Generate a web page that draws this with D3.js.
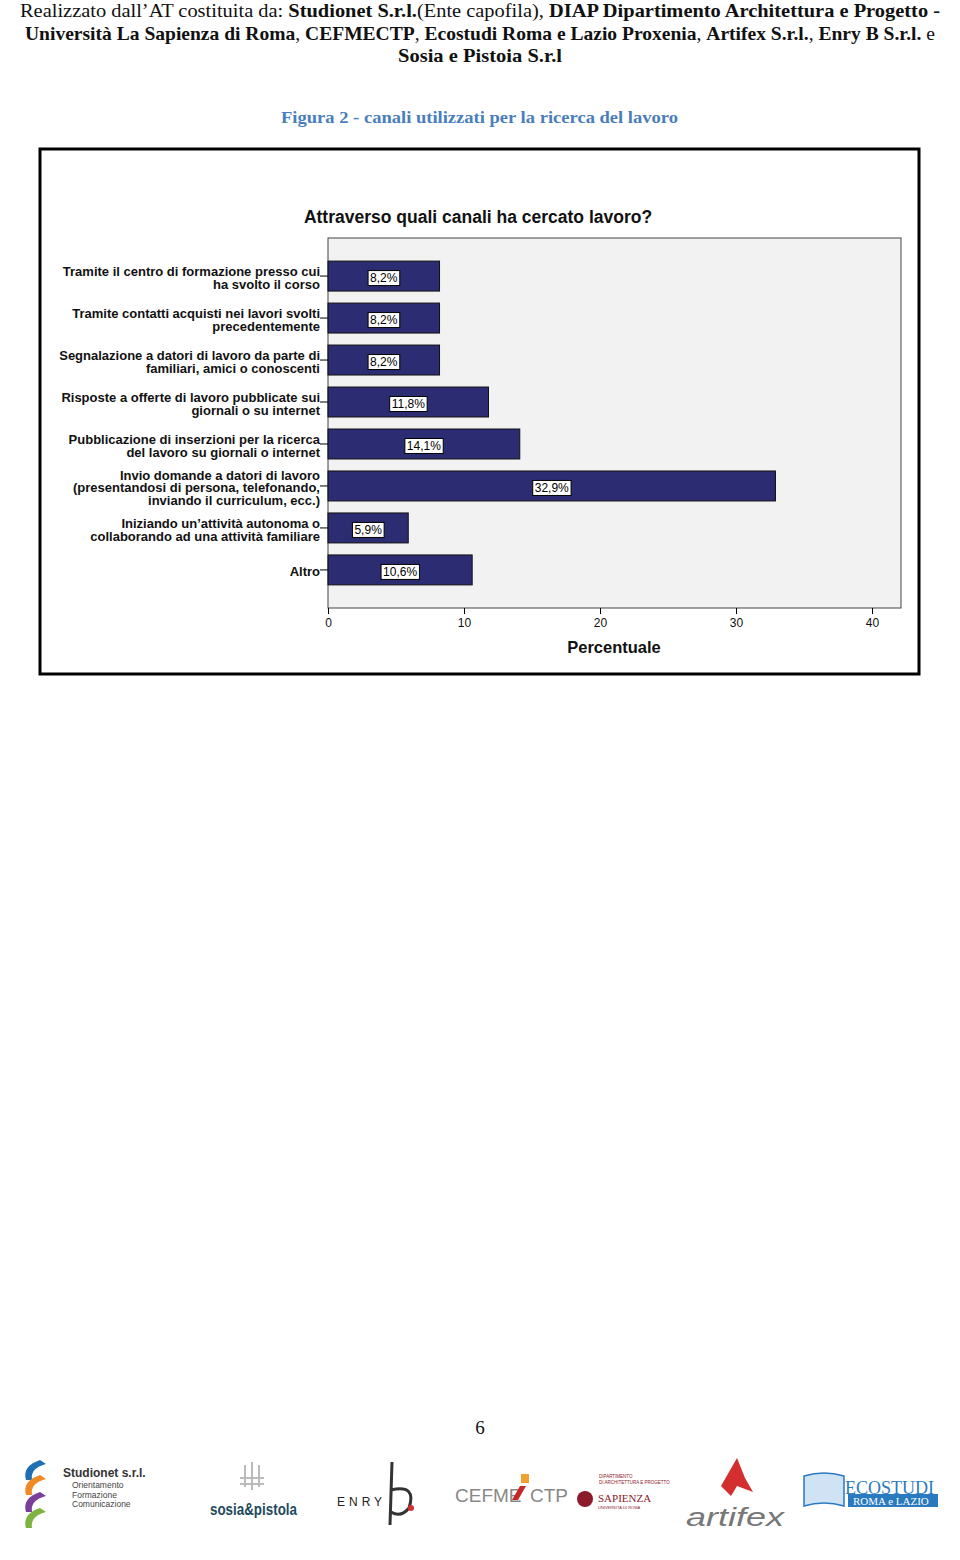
<!DOCTYPE html>
<html>
<head>
<meta charset="utf-8">
<script src="https://cdn.jsdelivr.net/npm/d3@7"></script>
<style>
  body { margin: 0; background: #fff; }
  svg { display: block; }
</style>
</head>
<body>
<div id="page"></div>
<script>
// Chart data
const categories = [
  ["Tramite il centro di formazione presso cui", "ha svolto il corso "],
  ["Tramite contatti acquisti nei lavori svolti", "precedentemente "],
  ["Segnalazione a datori di lavoro da parte di", "familiari, amici o conoscenti"],
  ["Risposte a offerte di lavoro pubblicate sui", "giornali o su internet"],
  ["Pubblicazione di inserzioni per la ricerca", "del lavoro su giornali o internet"],
  ["Invio domande a datori di lavoro", "(presentandosi di persona, telefonando,", "inviando il curriculum, ecc.)"],
  ["Iniziando un\u2019attività autonoma o", "collaborando ad una attività familiare"],
  ["Altro"]
];
const values = [8.2, 8.2, 8.2, 11.8, 14.1, 32.9, 5.9, 10.6];
const valueLabels = ["8,2%", "8,2%", "8,2%", "11,8%", "14,1%", "32,9%", "5,9%", "10,6%"];
const xTicks = [0, 10, 20, 30, 40];

const width = 960;
const height = 1560;

const svg = d3.select("#page")
  .append("svg")
  .attr("width", width)
  .attr("height", height)
  .style("font-family", "'Liberation Sans', Arial, sans-serif");

// Page header
const header = svg.append("g")
  .style("font-family", "'Liberation Serif', 'DejaVu Serif', serif")
  .style("font-size", "19px")
  .attr("fill", "#111");

const headerLines = [
  {y: 17, x: 20, len: 920, parts: [
    ["Realizzato dall\u2019AT costituita da:  ", false], ["Studionet S.r.l.", true],
    ["(Ente capofila), ", false], ["DIAP Dipartimento Architettura e Progetto -", true]]},
  {y: 40, x: 25, len: 910, parts: [
    ["Università La Sapienza di Roma", true], [", ", false], ["CEFMECTP", true], [", ", false],
    ["Ecostudi Roma e Lazio Proxenia", true], [", ", false], ["Artifex S.r.l.", true], [", ", false],
    ["Enry B S.r.l.", true], [" e", false]]},
  {y: 62, x: 398, len: 164, parts: [["Sosia e Pistoia S.r.l", true]]}
];
headerLines.forEach(l => {
  const t = header.append("text")
    .attr("x", l.x)
    .attr("y", l.y)
    .attr("textLength", l.len)
    .attr("lengthAdjust", "spacingAndGlyphs");
  l.parts.forEach(p => {
    t.append("tspan")
      .attr("font-weight", p[1] ? "bold" : "normal")
      .text(p[0]);
  });
});

// Figure caption
svg.append("text")
  .attr("x", 281)
  .attr("y", 123)
  .attr("textLength", 397)
  .attr("lengthAdjust", "spacingAndGlyphs")
  .attr("fill", "#4a7ebb")
  .style("font-family", "'Liberation Serif', 'DejaVu Serif', serif")
  .style("font-size", "17px")
  .style("font-weight", "bold")
  .text("Figura 2 - canali utilizzati per la ricerca del lavoro");

// Chart frame
svg.append("rect")
  .attr("x", 40)
  .attr("y", 149)
  .attr("width", 879)
  .attr("height", 525)
  .attr("fill", "#fff")
  .attr("stroke", "#000")
  .attr("stroke-width", 3);

const plot = {left: 328, right: 901, top: 238, bottom: 608};

const x = d3.scaleLinear()
  .domain([0, 42.13])
  .range([plot.left, plot.right]);

const y = d3.scaleBand()
  .domain(d3.range(categories.length))
  .range([plot.top, plot.bottom])
  .paddingInner(0.286)
  .paddingOuter(0.55);

// Plot background
svg.append("rect")
  .attr("x", plot.left)
  .attr("y", plot.top)
  .attr("width", plot.right - plot.left)
  .attr("height", plot.bottom - plot.top)
  .attr("fill", "#f2f2f2")
  .attr("stroke", "#444")
  .attr("stroke-width", 1);

// Title
svg.append("text")
  .attr("x", 478)
  .attr("y", 223)
  .attr("text-anchor", "middle")
  .attr("fill", "#111")
  .style("font-size", "17.5px")
  .style("font-weight", "bold")
  .text("Attraverso quali canali ha cercato lavoro?");

// Bars
svg.append("g")
  .selectAll("rect")
  .data(values)
  .join("rect")
  .attr("x", x(0))
  .attr("y", (d, i) => y(i))
  .attr("width", d => x(d) - x(0))
  .attr("height", y.bandwidth())
  .attr("fill", "#2b2c72")
  .attr("stroke", "#111")
  .attr("stroke-width", 1);

// Value labels in white boxes
const vl = svg.append("g")
  .selectAll("g")
  .data(values)
  .join("g")
  .attr("transform", (d, i) => `translate(${(x(0) + x(d)) / 2},${y(i) + y.bandwidth() / 2 + 2})`);

vl.append("text")
  .attr("text-anchor", "middle")
  .attr("dy", "0.36em")
  .attr("fill", "#000")
  .style("font-size", "12px")
  .text((d, i) => valueLabels[i]);

vl.each(function() {
  const g = d3.select(this);
  const b = g.select("text").node().getBBox();
  g.insert("rect", "text")
    .attr("x", b.x - 2)
    .attr("y", -7.5)
    .attr("width", b.width + 4)
    .attr("height", 15)
    .attr("fill", "#fff")
    .attr("stroke", "#000")
    .attr("stroke-width", 1);
});

// Category axis (left)
const yAxis = svg.append("g");
categories.forEach((lines, i) => {
  const cy = y(i) + y.bandwidth() / 2;
  yAxis.append("line")
    .attr("x1", plot.left - 8)
    .attr("x2", plot.left)
    .attr("y1", cy)
    .attr("y2", cy)
    .attr("stroke", "#000");
  const t = yAxis.append("text")
    .attr("text-anchor", "end")
    .attr("fill", "#111")
    .style("font-size", "13px")
    .style("font-weight", "bold");
  lines.forEach((s, k) => {
    t.append("tspan")
      .attr("x", plot.left - 8)
      .attr("y", cy + (k - (lines.length - 1) / 2) * 12.5 + 6.5)
      .text(s);
  });
});

// Value axis (bottom)
const xAxis = d3.axisBottom(x)
  .tickValues(xTicks)
  .tickSize(6)
  .tickPadding(4)
  .tickFormat(d3.format("d"));

const xg = svg.append("g")
  .attr("transform", `translate(0,${plot.bottom})`)
  .call(xAxis);
xg.select(".domain").remove();
xg.selectAll(".tick line").attr("stroke", "#000");
xg.selectAll("text")
  .attr("fill", "#111")
  .style("font-size", "12px")
  .style("font-family", "'Liberation Sans', Arial, sans-serif");

svg.append("text")
  .attr("x", 614)
  .attr("y", 653)
  .attr("text-anchor", "middle")
  .attr("fill", "#111")
  .style("font-size", "16.5px")
  .style("font-weight", "bold")
  .text("Percentuale");

// Page number
svg.append("text")
  .attr("x", 480)
  .attr("y", 1434)
  .attr("text-anchor", "middle")
  .attr("fill", "#111")
  .style("font-family", "'Liberation Serif', serif")
  .style("font-size", "19px")
  .text("6");

// Footer logos (simplified)
const logos = svg.append("g");

// Studionet
const swoosh = [["#1f6fb4", 1460], ["#f08a24", 1475], ["#7a3f98", 1492], ["#7cb342", 1508]];
swoosh.forEach(s => {
  logos.append("path")
    .attr("d", `M40,${s[1]} q-18,6 -14,20 l6,0 q-2,-12 14,-16 z`)
    .attr("fill", s[0]);
});
logos.append("text").attr("x", 63).attr("y", 1477)
  .style("font-size", "12px").style("font-weight", "bold").attr("fill", "#333")
  .text("Studionet s.r.l.");
["Orientamento", "Formazione", "Comunicazione"].forEach((s, i) => {
  logos.append("text").attr("x", 72).attr("y", 1488 + i * 9.5)
    .style("font-size", "8.5px").attr("fill", "#444").text(s);
});

// sosia & pistola
logos.append("path")
  .attr("d", "M245,1465 v22 M252,1462 v28 M259,1465 v22 M240,1478 h24 M240,1484 h24")
  .attr("stroke", "#bbb").attr("stroke-width", 2).attr("fill", "none");
logos.append("text").attr("x", 210).attr("y", 1515)
  .attr("textLength", 87).attr("lengthAdjust", "spacingAndGlyphs")
  .style("font-size", "17px").style("font-weight", "bold").attr("fill", "#1d4a5e")
  .text("sosia&pistola");

// ENRY b
logos.append("text").attr("x", 337).attr("y", 1506)
  .style("font-size", "12px").style("letter-spacing", "4px").attr("fill", "#222")
  .text("ENRY");
logos.append("path")
  .attr("d", "M392,1462 L390,1525 M391,1490 q26,-6 18,18 q-8,10 -18,4")
  .attr("stroke", "#333").attr("stroke-width", 3).attr("fill", "none");
logos.append("circle").attr("cx", 411).attr("cy", 1508).attr("r", 3).attr("fill", "#d32f2f");

// CEFME CTP
logos.append("text").attr("x", 455).attr("y", 1502)
  .style("font-size", "19px").attr("fill", "#888")
  .text("CEFME");
logos.append("path").attr("d", "M512,1500 l8,-14 l6,0 l-8,14 z").attr("fill", "#c62828");
logos.append("rect").attr("x", 521).attr("y", 1474).attr("width", 8).attr("height", 9).attr("fill", "#f0a030");
logos.append("text").attr("x", 530).attr("y", 1502)
  .style("font-size", "19px").attr("fill", "#888")
  .text("CTP");

// Sapienza
logos.append("text").attr("x", 599).attr("y", 1478)
  .style("font-size", "4.5px").attr("fill", "#8b1a2b").text("DIPARTIMENTO");
logos.append("text").attr("x", 599).attr("y", 1484)
  .style("font-size", "4.5px").attr("fill", "#8b1a2b").text("DI ARCHITETTURA E PROGETTO");
logos.append("circle").attr("cx", 585).attr("cy", 1499).attr("r", 8).attr("fill", "#8b1a2b");
logos.append("text").attr("x", 598).attr("y", 1502)
  .style("font-family", "'Liberation Serif', serif")
  .style("font-size", "11px").attr("fill", "#8b1a2b").text("SAPIENZA");
logos.append("text").attr("x", 598).attr("y", 1509)
  .style("font-size", "4px").attr("fill", "#8b1a2b").text("UNIVERSITÀ DI ROMA");

// artifex
logos.append("path")
  .attr("d", "M737,1458 l-16,28 l10,10 l6,-10 l16,6 l-8,-14 z")
  .attr("fill", "#d32f2f");
logos.append("text").attr("x", 686).attr("y", 1526)
  .attr("textLength", 98).attr("lengthAdjust", "spacingAndGlyphs")
  .style("font-size", "26px").style("font-style", "italic").attr("fill", "#777")
  .text("artifex");

// Ecostudi
logos.append("path")
  .attr("d", "M804,1476 q20,-6 40,0 v30 q-20,-6 -40,0 z")
  .attr("fill", "#cfe3f5").attr("stroke", "#2a7ac0").attr("stroke-width", 1.5);
logos.append("text").attr("x", 845).attr("y", 1494)
  .style("font-family", "'Liberation Serif', serif")
  .style("font-size", "18px").attr("fill", "#2a7ac0").text("ECOSTUDI");
logos.append("rect").attr("x", 848).attr("y", 1494).attr("width", 90).attr("height", 13).attr("fill", "#2a7ac0");
logos.append("text").attr("x", 853).attr("y", 1505)
  .style("font-family", "'Liberation Serif', serif")
  .style("font-size", "11px").attr("fill", "#fff").text("ROMA e LAZIO");
</script>
</body>
</html>
